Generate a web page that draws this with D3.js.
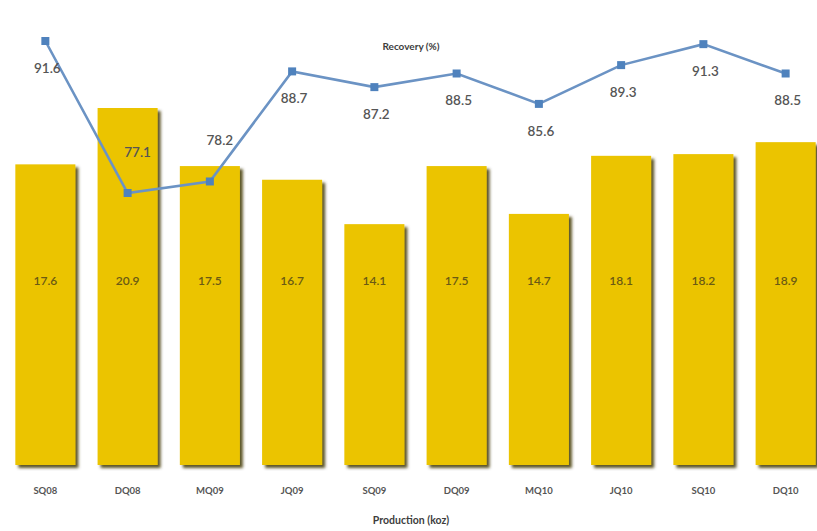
<!DOCTYPE html>
<html lang="en">

<head>
    <meta charset="UTF-8">
    <title>Production and recovery</title>
    <script src="https://d3js.org/d3.v7.min.js"></script>
    <style>
        body { margin: 0; background: #fff; }
        text { font-family: Lato, "Open Sans", sans-serif; }
    </style>
</head>

<body>
    <script>
        var width = 817, height = 531;

        // data
        var quarters = ['SQ08', 'DQ08', 'MQ09', 'JQ09', 'SQ09', 'DQ09', 'MQ10', 'JQ10', 'SQ10', 'DQ10'];
        var production = [17.6, 20.9, 17.5, 16.7, 14.1, 17.5, 14.7, 18.1, 18.2, 18.9];
        var recovery = [91.6, 77.1, 78.2, 88.7, 87.2, 88.5, 85.6, 89.3, 91.3, 88.5];
        var recoveryLabelSide = ['below', 'above', 'above', 'below', 'below', 'below', 'below', 'below', 'below', 'below'];

        var svg = d3.select('body').append('svg').attr('width', width).attr('height', height);

        // shadow for the bars
        var filter = svg.append('defs').append('filter')
            .attr('id', 'shadow')
            .attr('x', '-20%').attr('y', '-10%')
            .attr('width', '150%').attr('height', '130%');
        filter.append('feDropShadow')
            .attr('dx', 3).attr('dy', 3)
            .attr('stdDeviation', 1.4)
            .attr('flood-color', '#3f3400')
            .attr('flood-opacity', 0.85);

        var x = d3.scaleBand()
            .domain(quarters)
            .range([3, 828])
            .paddingInner(0.27)
            .paddingOuter(0.15);

        var yBar = d3.scaleLinear().domain([0, 20.9]).range([465, 108]);
        var yLine = d3.scaleLinear().domain([77.1, 91.6]).range([193, 41]);

        // bars
        svg.selectAll('rect.bar').data(production)
            .join('rect')
            .attr('class', 'bar')
            .attr('x', function (d, i) { return x(quarters[i]); })
            .attr('width', x.bandwidth())
            .attr('y', function (d) { return yBar(d); })
            .attr('height', function (d) { return yBar(0) - yBar(d); })
            .attr('fill', '#ebc400')
            .attr('filter', 'url(#shadow)');

        // bar values
        svg.selectAll('text.barval').data(production)
            .join('text')
            .attr('class', 'barval')
            .attr('x', function (d, i) { return x(quarters[i]) + x.bandwidth() / 2; })
            .attr('y', 285)
            .attr('text-anchor', 'middle')
            .attr('font-size', 12)
            .attr('font-weight', 600)
            .attr('fill', '#6a5a14')
            .text(function (d) { return d.toFixed(1); });

        // x axis labels
        var xAxis = d3.axisBottom(x).tickSize(0).tickPadding(0);
        var gx = svg.append('g').attr('transform', 'translate(0,487)').call(xAxis);
        gx.select('.domain').remove();
        gx.selectAll('text')
            .attr('font-size', 9.5)
            .attr('font-weight', 'bold')
            .attr('fill', '#555')
            .style('font-family', 'Lato, sans-serif');

        // recovery line
        var line = d3.line()
            .x(function (d, i) { return x(quarters[i]) + x.bandwidth() / 2; })
            .y(function (d) { return yLine(d); });

        svg.append('path').datum(recovery)
            .attr('d', line)
            .attr('fill', 'none')
            .attr('stroke', '#6b93c4')
            .attr('stroke-width', 2.6);

        svg.selectAll('rect.marker').data(recovery)
            .join('rect')
            .attr('class', 'marker')
            .attr('x', function (d, i) { return x(quarters[i]) + x.bandwidth() / 2 - 4; })
            .attr('y', function (d) { return yLine(d) - 4; })
            .attr('width', 8).attr('height', 8)
            .attr('fill', '#4f82bd');

        svg.selectAll('text.recval').data(recovery)
            .join('text')
            .attr('class', 'recval')
            .attr('x', function (d, i) {
                var cx = x(quarters[i]) + x.bandwidth() / 2;
                return recoveryLabelSide[i] == 'above' ? cx + 10 : cx + 2;
            })
            .attr('y', function (d, i) {
                return recoveryLabelSide[i] == 'above' ? yLine(d) - 36 : yLine(d) + 32;
            })
            .attr('text-anchor', 'middle')
            .attr('font-size', 13.5)
            .attr('font-weight', 600)
            .attr('fill', '#555')
            .text(function (d) { return d.toFixed(1); });

        // titles
        svg.append('text')
            .attr('x', 411).attr('y', 50)
            .attr('text-anchor', 'middle')
            .attr('font-size', 10)
            .attr('font-weight', 'bold')
            .attr('fill', '#3d3d3d')
            .text('Recovery (%)');

        svg.append('text')
            .attr('x', 411).attr('y', 524)
            .attr('text-anchor', 'middle')
            .attr('font-size', 10.5)
            .attr('font-weight', 'bold')
            .attr('fill', '#3d3d3d')
            .text('Production (koz)');
    </script>
</body>

</html>
